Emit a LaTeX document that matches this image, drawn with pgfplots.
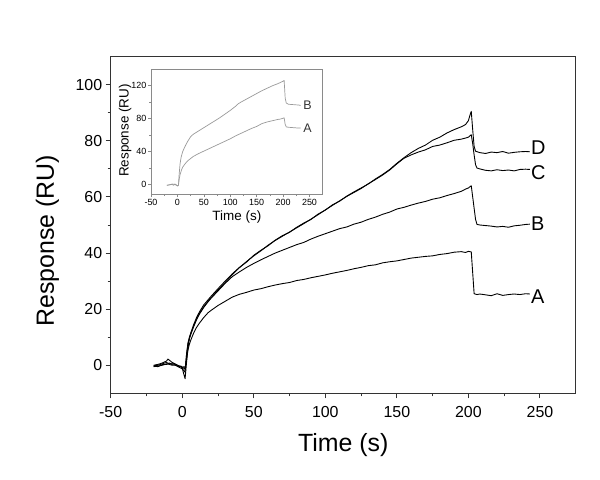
\documentclass[border=0pt]{standalone}
\usepackage{pgfplots}
\pgfplotsset{compat=1.18}
\usepackage{fontspec}
\setmainfont{Liberation Sans}
\definecolor{axgray}{HTML}{333333}
\definecolor{insgray}{HTML}{8A8A8A}
\definecolor{curvegray}{HTML}{9A9A9A}
\begin{document}
\begin{tikzpicture}
\useasboundingbox (0,0) rectangle (600bp,480bp);
\begin{axis}[
  at={(110.7bp,86.7bp)}, anchor=south west,
  width=465bp, height=336.6bp, scale only axis,
  xmin=-50, xmax=275, ymin=-10, ymax=110,
  xtick={-50,0,50,100,150,200,250},
  ytick={0,20,40,60,80,100},
  minor x tick num=1, minor y tick num=1,
  xtick pos=bottom, ytick pos=left,
  tick align=outside,
  major tick length=5bp, minor tick length=3bp,
  axis line style={axgray, line width=1.2pt},
  every tick/.style={axgray, line width=1pt},
  /pgf/number format/assume math mode=true,
  tick label style={font=\fontsize{16}{16}\selectfont},
  xticklabel style={yshift=-5bp},
  xlabel={Time (s)}, ylabel={Response (RU)},
  label style={font=\fontsize{25}{25}\selectfont},
  xlabel style={at={(axis description cs:0.5,-0.1536)}, anchor=center},
  ylabel style={at={(axis description cs:-0.136,0.453)}, anchor=center, rotate=0},
  clip=false,
]
% A
\addplot[black, line width=0.9pt, line join=round] coordinates {(-20,-0.5) (-17,-0.3) (-14,0) (-11,0.5) (-9,0.3) (-7,0) (-5,0.2) (-3,-0.3) (-1,-0.5) (0,-0.8) (1,-0.5) (2,-0.8) (3,2) (4,5.5) (5,7.5) (6,9) (8,11.5) (10,13.5) (12,15) (15,17) (18,18.7) (20,19.5) (25,21.3) (30,22.8) (35,24.3) (40,25.3) (45,26) (50,26.8) (55,27.3) (60,28) (65,28.6) (70,29.1) (75,29.5) (80,30.2) (85,30.6) (90,31.2) (95,31.7) (100,32.2) (105,32.8) (110,33.3) (115,33.8) (120,34.4) (125,34.9) (130,35.5) (135,35.8) (140,36.5) (145,36.9) (150,37.2) (155,37.7) (160,38.2) (165,38.5) (170,38.8) (175,39) (180,39.5) (185,39.8) (190,40.3) (195,40.5) (198,40.2) (200,40.6) (202,40.4) (203,33) (204,25.5) (206,25.2) (208,25.4) (212,25.1) (216,24.8) (220,25.5) (224,24.9) (228,25.2) (232,25.4) (236,25.2) (240,25.5) (243,25.4)};
% B
\addplot[black, line width=0.9pt, line join=round] coordinates {(-20,-0.3) (-17,-0.5) (-14,0.2) (-11,0.3) (-9,0.8) (-7,0.2) (-5,0) (-3,-0.4) (-1,-0.3) (0,-0.6) (1,-1) (2,-1.5) (3,3.5) (4,7.5) (5,9.5) (6,11) (8,13.8) (10,16.2) (12,18.2) (15,20.6) (18,22.6) (20,23.8) (25,26.5) (30,29.2) (35,31.6) (40,33.3) (45,34.9) (50,36.3) (55,37.6) (60,38.8) (65,40) (70,41) (75,42) (80,43) (85,43.8) (90,45) (95,46) (100,46.9) (105,47.8) (110,48.7) (115,49.3) (120,50.3) (125,51) (130,52) (135,52.8) (140,53.8) (145,54.6) (150,55.7) (155,56.3) (160,57.1) (165,57.8) (170,58.4) (175,59.2) (180,59.7) (185,60.5) (190,61.2) (195,62) (198,62.8) (200,63.2) (202,64) (203,60) (204,56) (205,52) (206,50.2) (208,50) (212,49.8) (216,49.6) (220,49.3) (224,49.5) (228,49.2) (232,49.7) (236,49.9) (240,50.2) (243,50.3)};
% C
\addplot[black, line width=0.9pt, line join=round] coordinates {(-20,-0.2) (-17,0) (-14,0.5) (-11,1) (-9,0.5) (-7,0.8) (-5,0.3) (-3,-0.5) (-1,-1) (0,-1.3) (1,-1.8) (2,-2.5) (3,4) (4,8) (5,10) (6,11.5) (8,14) (10,16.5) (12,18.5) (15,20.8) (18,22.8) (20,24) (25,26.8) (30,29.5) (35,32.3) (40,34.8) (45,37) (50,39) (55,40.8) (60,42.8) (65,44.5) (70,46) (75,47.5) (80,49) (85,50.5) (90,52.1) (95,53.7) (100,55.4) (105,57) (110,58.6) (115,60.2) (120,61.6) (125,63) (130,64.7) (135,66.2) (140,67.8) (145,69.6) (150,71.8) (155,73.8) (160,75) (165,76) (170,76.8) (175,78) (180,78.5) (185,79.3) (190,80.2) (195,80.6) (198,81) (200,81.3) (202,82.2) (203,79) (204,75) (205,71.5) (206,70.3) (208,70) (212,69.5) (216,69.3) (220,69.7) (224,69.4) (228,69.6) (232,69.3) (236,69.8) (240,69.9) (243,69.8)};
% D
\addplot[black, line width=0.9pt, line join=round] coordinates {(-20,0) (-17,0.3) (-14,0.8) (-11,1.5) (-10,2.2) (-9,1.8) (-7,1) (-5,0.5) (-3,0) (-1,-0.5) (0,-1) (1,-3) (2,-4.8) (3,1) (4,6) (5,9.5) (6,11.5) (8,14.5) (10,17) (12,19) (15,21.5) (18,23.3) (20,24.5) (25,27.3) (30,30) (35,32.6) (40,34.9) (45,36.8) (50,39.2) (55,41) (60,42.6) (65,44.6) (70,46.2) (75,47.4) (80,49.2) (85,50.7) (90,52) (95,53.9) (100,55.3) (105,57.2) (110,58.5) (115,60.3) (120,61.8) (125,63.2) (130,64.6) (135,66.4) (140,68) (145,69.8) (150,72) (155,74) (160,75.8) (165,77.3) (170,78.5) (175,80.2) (180,81.3) (185,82.8) (190,84) (195,85) (198,85.8) (200,87.2) (201,89) (202,90.5) (203,84) (204,78) (205,76.3) (208,75.8) (212,75.5) (216,76) (220,75.8) (224,76.2) (228,75.6) (232,75.9) (236,76.1) (240,76.2) (243,76.1)};
\node[anchor=west, inner sep=1bp, font=\fontsize{20}{20}\selectfont] at (axis cs:243,77.4) {D};
\node[anchor=west, inner sep=1bp, font=\fontsize{20}{20}\selectfont] at (axis cs:243,68.8) {C};
\node[anchor=west, inner sep=1bp, font=\fontsize{20}{20}\selectfont] at (axis cs:243,50.6) {B};
\node[anchor=west, inner sep=1bp, font=\fontsize{20}{20}\selectfont] at (axis cs:243,24.6) {A};
\end{axis}
\begin{axis}[
  at={(151bp,285.7bp)}, anchor=south west,
  width=171.7bp, height=125bp, scale only axis,
  xmin=-50, xmax=275, ymin=-12, ymax=140,
  xtick={-50,0,50,100,150,200,250},
  ytick={0,40,80,120},
  minor x tick num=1, minor y tick num=1,
  xtick pos=bottom, ytick pos=left,
  tick align=outside,
  major tick length=3bp, minor tick length=1.8bp,
  axis line style={insgray, line width=0.7pt},
  every tick/.style={insgray, line width=0.6pt},
  axis background/.style={fill=white},
  /pgf/number format/assume math mode=true,
  tick label style={font=\fontsize{9}{9}\selectfont, inner sep=1.5bp},
  xlabel={Time (s)}, ylabel={Response (RU)},
  label style={font=\fontsize{13.5}{13.5}\selectfont},
  xlabel style={at={(axis description cs:0.5,-0.182)}, anchor=center},
  ylabel style={at={(axis description cs:-0.151,0.51)}, anchor=center},
  clip=false,
]
\addplot[curvegray, line width=0.7pt, line join=round] coordinates {(-20,-1) (-15,-0.5) (-10,0) (-7,-1) (-5,0.5) (-2,-0.5) (0,-2) (2,-1) (3,10) (5,25) (7,33) (10,40) (15,47) (20,53) (25,58) (30,61) (40,65) (50,69) (60,73) (70,77) (80,81) (90,85.5) (100,90) (110,95) (115,98) (120,100) (130,103.5) (140,107) (150,110.5) (160,114) (170,117) (180,120) (190,122.5) (200,125.5) (202,126.5) (204,105) (206,99) (210,97.5) (220,97) (230,96.5) (233,96)};
\addplot[curvegray, line width=0.7pt, line join=round] coordinates {(-20,-1) (-15,-0.5) (-10,0.5) (-5,0) (0,-1.5) (2,-1) (3,5) (5,12) (8,18) (10,21) (15,25.5) (20,29) (25,31.5) (30,34) (40,37.5) (50,40.5) (60,43.5) (70,46.5) (80,49.5) (90,52.5) (100,55.5) (110,59) (120,62) (130,65) (140,68) (150,70.5) (160,74) (170,76) (180,77.5) (190,79) (195,79.5) (200,80.5) (202,81) (204,73) (206,70) (210,69.5) (220,69) (230,68.5) (233,68.5)};
\node[anchor=west, inner sep=1bp, font=\fontsize{12.5}{12.5}\selectfont, black!80] at (axis cs:236,96.5) {B};
\node[anchor=west, inner sep=1bp, font=\fontsize{12.5}{12.5}\selectfont, black!80] at (axis cs:236,68.5) {A};
\end{axis}
\end{tikzpicture}
\end{document}
